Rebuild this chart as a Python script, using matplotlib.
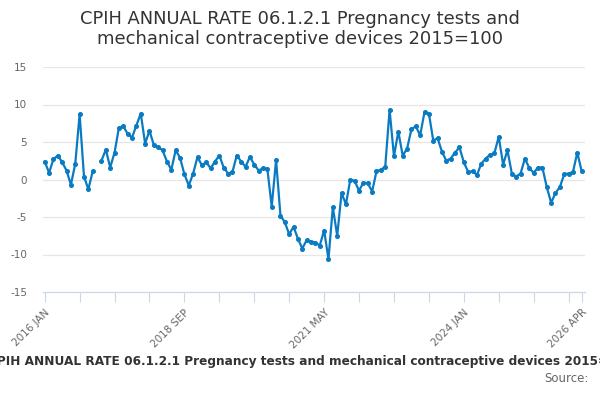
import numpy as np
import matplotlib
matplotlib.use("Agg")
import matplotlib.pyplot as plt

TITLE = "CPIH ANNUAL RATE 06.1.2.1 Pregnancy tests and\nmechanical contraceptive devices 2015=100"
CAPTION = "CPIH ANNUAL RATE 06.1.2.1 Pregnancy tests and mechanical contraceptive devices 2015=100"

# monthly annual rate, 2016 JAN .. 2026 APR (None = no value)
values = [
    2.4, 0.9, 2.7, 3.2, 2.3, 1.2, -0.7, 2.1, 8.7, 0.4, -1.3, 1.1,
    None, 2.5, 4.0, 1.6, 3.6, 6.9, 7.1, 6.1, 5.6, 7.2, 8.8, 4.8,
    6.5, 4.6, 4.3, 3.9, 2.4, 1.3, 3.9, 2.9, 0.7, -0.8, 0.8, 3.0,
    1.9, 2.3, 1.5, 2.4, 3.2, 1.6, 0.8, 1.0, 3.2, 2.4, 1.7, 3.0,
    2.0, 1.2, 1.5, 1.4, -3.6, 2.6, -4.8, -5.7, -7.3, -6.3, -7.9, -9.2,
    -8.1, -8.3, -8.4, -8.8, -6.8, -10.6, -3.7, -7.5, -1.8, -3.3, 0.0, -0.2,
    -1.5, -0.4, -0.5, -1.6, 1.1, 1.3, 1.7, 9.3, 3.1, 6.4, 3.2, 4.1,
    6.7, 7.1, 5.9, 9.0, 8.8, 5.2, 5.5, 3.7, 2.5, 2.8, 3.6, 4.3,
    2.3, 1.0, 1.1, 0.6, 2.1, 2.8, 3.3, 3.5, 5.7, 2.0, 3.9, 0.8,
    0.4, 0.8, 2.8, 1.5, 0.9, 1.6, 1.6, -1.0, -3.1, -1.8, -1.0, 0.7,
    0.8, 1.0, 3.6, 1.1,
]
tick_idx = [0, 32, 64, 96, 123]
tick_labels = ["2016 JAN", "2018 SEP", "2021 MAY", "2024 JAN", "2026 APR"]
yticks = [-15, -10, -5, 0, 5, 10, 15]

y = np.array([np.nan if v is None else v for v in values], dtype=float)
x = np.arange(len(y))

fig = plt.figure(figsize=(6, 4), dpi=100)
ax = fig.add_axes([43 / 600, 1 - 292 / 400, 542 / 600, 225 / 400])

ax.plot(x, y, color="#0a7bc2", lw=1.6, marker="o", ms=2.6, zorder=3)

ax.set_xlim(-0.39, 123.76)
ax.set_ylim(-15, 15)
ax.set_yticks(yticks)
ax.set_yticklabels([str(v) for v in yticks])
ax.tick_params(axis="y", length=0, pad=11.5, labelsize=7.5, labelcolor="#666666")
for v in yticks[1:]:
    ax.axhline(v, color="#e6e6e6", lw=0.9, zorder=1)

minor = list(range(0, 121, 8)) + [123]
ax.set_xticks(minor, minor=True)
ax.set_xticks(tick_idx)
ax.set_xticklabels(tick_labels, rotation=45, ha="right", rotation_mode="anchor")
ax.tick_params(axis="x", which="both", length=7.5, width=0.8, color="#ccd6eb",
               labelsize=7.5, labelcolor="#666666")
ax.tick_params(axis="x", which="minor", labelbottom=False)

for s in ["top", "left", "right"]:
    ax.spines[s].set_visible(False)
ax.spines["bottom"].set_color("#ccd6eb")
ax.spines["bottom"].set_linewidth(0.9)

fig.text(0.5, 1 - 29 / 400, TITLE, ha="center", va="center", fontsize=12.9,
         color="#333333", linespacing=1.2)
# caption runs off both edges, as in the source chart
fig.text(311 / 600, 1 - 361 / 400, CAPTION, ha="center", va="center", fontsize=8.75,
         fontweight="bold", color="#333333")
fig.text(589 / 600, 1 - 379 / 400, "Source:", ha="right", va="center",
         fontsize=8.5, color="#666666")

fig.savefig("out.png", dpi=100)
